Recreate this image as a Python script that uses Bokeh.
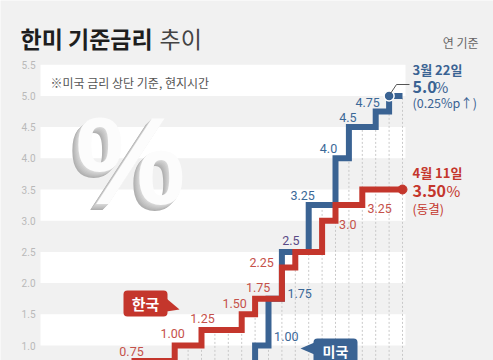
from bokeh.plotting import figure
from bokeh.models import Range1d, ColumnDataSource
from bokeh.core.properties import value
from bokeh.embed import file_html
from bokeh.resources import INLINE

# ---------------- data ----------------
kr_months = ["2020-05", "2021-08", "2021-11", "2022-01", "2022-04", "2022-05",
             "2022-07", "2022-08", "2022-10", "2022-11", "2023-01"]
kr_rates = [0.50, 0.75, 1.00, 1.25, 1.50, 1.75, 2.25, 2.50, 3.00, 3.25, 3.50]
kr_labels = ["", "0.75", "1.00", "1.25", "1.50", "1.75", "2.25", "", "3.0", "3.25", ""]

us_months = ["2020-03", "2022-03", "2022-05", "2022-06", "2022-07", "2022-09",
             "2022-11", "2022-12", "2023-02", "2023-03"]
us_rates = [0.25, 0.50, 1.00, 1.75, 2.50, 3.25, 4.00, 4.50, 4.75, 5.00]
us_labels = ["", "", "1.00", "1.75", "2.5", "3.25", "4.0", "4.5", "4.75", ""]

end_month = "2023-04"
grid_months_from = "2021-08"

y_ticks = [1.0, 1.5, 2.0, 2.5, 3.0, 3.5, 4.0, 4.5, 5.0, 5.5]
y_tick_labels = ["1.0", "1.5", "2.0", "2.5", "3.0", "3.5", "4.0", "4.5", "5.0", "5.5"]

# ---------------- styles ----------------
RED = "#c4362c"
BLUE = "#3a6393"
RED_TXT = "#c5514a"
BLUE_TXT = "#3b6897"
PURPLE_TXT = "#5a4a86"
BG = "#f1f1f1"
CJK = "Noto Sans CJK KR"

# label offsets (px, screen) and alignment, one per data entry
kr_label_style = [(0, 0, "center"), (-3, -10, "center"), (-2, -12, "center"), (1, -11, "center"),
                  (-7, -11, "center"), (3, -11, "center"), (-8, -5, "right"), (0, 0, "center"),
                  (17, 4, "left"), (32, 3, "left"), (0, 0, "center")]
us_label_style = [(0, 0, "center"), (0, 0, "center"), (19, -9, "left"), (19, -5, "left"),
                  (9, -11, "center"), (-6, -10, "center"), (-7, -10, "center"), (-1, -10, "center"),
                  (-8, -9, "center"), (0, 0, "center")]
us_label_colors = [BLUE_TXT] * 4 + [PURPLE_TXT] + [BLUE_TXT] * 5


def midx(s):
    y, m = s.split("-")
    return (int(y) - 2022) * 12 + int(m) - 1


# pixel helpers for decorations (frame covers the whole 493x360 canvas)
X0, PXM = 201.0, 13.4
Y1, PXV = 345.0, 62.4
W, H = 493, 360


def PX(px):
    return (px - X0) / PXM


def PY(py):
    return 1 + (Y1 - py) / PXV


p = figure(width=W, height=H, output_backend="svg", toolbar_location=None,
           x_range=Range1d(PX(0), PX(W)), y_range=Range1d(PY(H), PY(0)),
           min_border_left=0, min_border_right=0, min_border_top=0, min_border_bottom=0)
p.axis.visible = False
p.background_fill_color = BG
p.border_fill_color = BG
p.outline_line_color = None
p.grid.visible = False

# y tick labels
p.text(x=[PX(35)] * len(y_ticks), y=y_ticks, text=y_tick_labels,
       text_font=value("Roboto"), text_font_size="10px", text_color="#b9b9b9",
       text_align="right", text_baseline="middle")

# white bands
band_bottoms = y_ticks[0::2]
p.quad(left=[PX(40)] * len(band_bottoms), right=[PX(405)] * len(band_bottoms),
       bottom=band_bottoms, top=[b + 0.5 for b in band_bottoms],
       fill_color="white", line_color=None)


def level(months, rates, m):
    v = None
    for mm, r in zip(months, rates):
        if midx(mm) <= m:
            v = r
    return v if v is not None else 0


# monthly dotted drop lines
gm = list(range(midx(grid_months_from), midx(end_month) + 1))
tops = [max(level(kr_months, kr_rates, m), level(us_months, us_rates, m)) for m in gm]
p.segment(x0=gm, y0=[0] * len(gm), x1=gm, y1=tops, line_color="#c9c9c9",
          line_width=1, line_dash="2 2")

# big 3D percent sign
pc_x, pc_y = PX(130), PY(160)
for i, c in enumerate(["#b0b0b0", "#b8b8b8", "#c0c0c0", "#c7c7c7", "#cecece", "#d6d6d6"]):
    k = 6 - i
    p.text(x=[pc_x], y=[pc_y], text=["%"], x_offset=-k, y_offset=k,
           text_font=value("Liberation Sans"), text_font_style="bold",
           text_font_size="124px", text_color=c, text_align="center",
           text_baseline="middle")
p.text(x=[pc_x], y=[pc_y], text=["%"], text_font=value("Liberation Sans"),
       text_font_style="bold", text_font_size="124px", text_color="#fcfcfc",
       text_align="center", text_baseline="middle")

# note
p.text(x=[PX(50)], y=[PY(82)], text=["※미국 금리 상단 기준, 현지시간"],
       text_font=value(CJK), text_font_size="12px", text_color="#555555",
       text_align="left", text_baseline="middle")

# step lines
us_x = [midx(m) for m in us_months] + [midx(end_month)]
us_y = us_rates + [us_rates[-1]]
p.step(us_x, us_y, mode="after", line_color=BLUE, line_width=6, line_join="miter")
kr_x = [midx(m) for m in kr_months] + [midx(end_month)]
kr_y = kr_rates + [kr_rates[-1]]
p.step(kr_x, kr_y, mode="after", line_color=RED, line_width=6, line_join="miter")

# end markers
p.scatter([midx(us_months[-1])], [us_rates[-1]], size=10, fill_color=BLUE,
          line_color="white", line_width=1.5)
p.scatter([midx(end_month)], [kr_rates[-1]], size=9, fill_color=RED, line_color=RED)


# value labels
def add_labels(months, rates, labels, styles, colors):
    for align in ("left", "center", "right"):
        d = dict(x=[], y=[], t=[], dx=[], dy=[], c=[])
        for mm, r, t, (dx, dy, a), c in zip(months, rates, labels, styles, colors):
            if t and a == align:
                d["x"].append(midx(mm)); d["y"].append(r); d["t"].append(t)
                d["dx"].append(dx); d["dy"].append(dy); d["c"].append(c)
        if d["t"]:
            p.text(x="x", y="y", text="t", x_offset="dx", y_offset="dy",
                   text_color="c", source=ColumnDataSource(d),
                   text_font=value("Roboto"), text_font_size="12.5px",
                   text_align=align, text_baseline="middle")


add_labels(kr_months, kr_rates, kr_labels, kr_label_style, [RED_TXT] * len(kr_labels))
add_labels(us_months, us_rates, us_labels, us_label_style, us_label_colors)

# connector for US annotation
p.line(x=[PX(390), PX(396), PX(409)], y=[PY(93), PY(84), PY(84)],
       line_color="#555555", line_width=1)


# right annotations
def rtext(txt, py, size, color, bold=False, px=412, align="left", font=CJK):
    p.text(x=[PX(px)], y=[PY(py)], text=[txt], text_font=value(font),
           text_font_size=size, text_color=color,
           text_font_style="bold" if bold else "normal",
           text_align=align, text_baseline="middle")


rtext("3월 22일", 69, "13px", BLUE, True)
rtext("5.0", 86, "16px", BLUE, True)
rtext("%", 86, "15px", BLUE, False, px=434)
rtext("(0.25%p↑)", 102, "12.5px", BLUE)
rtext("4월 11일", 172, "13px", RED, True)
rtext("3.50", 190, "16px", RED, True)
rtext("%", 190, "15px", RED, False, px=446)
rtext("(동결)", 208, "12.5px", RED)
rtext("연 기준", 42, "12px", "#666666", px=478, align="right")

# callouts
p.quad(left=[PX(123)], right=[PX(167)], top=[PY(290)], bottom=[PY(316)],
       fill_color=RED, line_color=None, border_radius=4)
p.patch(x=[PX(166), PX(166), PX(179)], y=[PY(298), PY(311), PY(309)],
        fill_color=RED, line_color=None)
rtext("한국", 303, "15px", "white", True, px=145, align="center")

p.quad(left=[PX(313)], right=[PX(357)], top=[PY(338)], bottom=[PY(368)],
       fill_color=BLUE, line_color=None, border_radius=4)
p.patch(x=[PX(314), PX(314), PX(300)], y=[PY(342), PY(354), PY(348)],
        fill_color=BLUE, line_color=None)
rtext("미국", 350, "14px", "white", True, px=335, align="center")

# title
rtext("한미 기준금리", 37, "23px", "#1e1e1e", True, px=20)
rtext("추이", 37, "23px", "#444444", False, px=159)

open("out.html", "w").write(file_html(p, INLINE))
